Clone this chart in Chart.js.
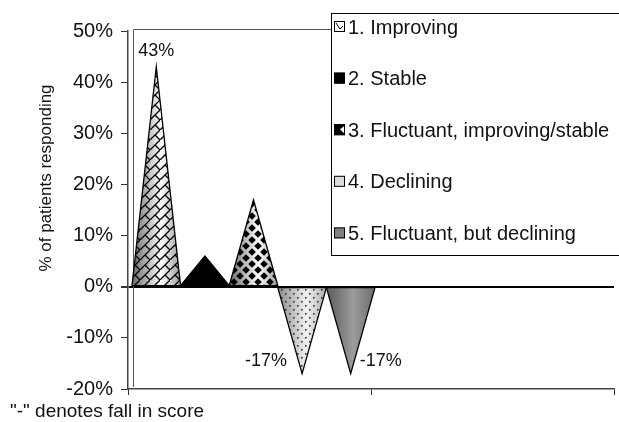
<!DOCTYPE html>
<html>
<head>
<meta charset="utf-8">
<script src="https://cdn.jsdelivr.net/npm/chart.js@4.4.0/dist/chart.umd.min.js"></script>
<style>
html, body { margin: 0; padding: 0; background: #fff; }
#wrap { width: 619px; height: 422px; }
</style>
</head>
<body>
<div id="wrap"><canvas id="chart"></canvas></div>
<script>
"use strict";

// data
const categories = ["", ""];
const series_names = [
    "1. Improving",
    "2. Stable",
    "3. Fluctuant, improving/stable",
    "4. Declining",
    "5. Fluctuant, but declining"
];
const series_values = [43, 6, 17, -17, -17];
const value_labels = ["43%", "", "", "-17%", "-17%"];
const label_sides = ["top", "", "", "left", "right"];
const y_min = -20;
const y_max = 50;
const y_step = 10;
const y_title = "% of patients responding";
const footnote = "\"-\" denotes fall in score";

const FONT = "'Liberation Sans Narrow', 'Liberation Sans', Arial, sans-serif";
Chart.defaults.font.family = FONT;
Chart.defaults.font.size = 20;
Chart.defaults.color = "#111";

// fill patterns
function makeTile(size, draw) {
    const c = document.createElement("canvas");
    c.width = size;
    c.height = size;
    draw(c.getContext("2d"), size);
    return c;
}

const brickTile = makeTile(10, function (g, s) {
    g.strokeStyle = "#000";
    g.lineWidth = 1.3;
    g.beginPath();
    g.moveTo(-1, s + 1); g.lineTo(s + 1, -1);
    g.moveTo(s / 2, s / 2); g.lineTo(s, s);
    g.stroke();
});

const diamondTile = makeTile(12, function (g, s) {
    g.fillStyle = "#000";
    const r = 3.8;
    [[s / 2, s / 2], [0, 0], [s, 0], [0, s], [s, s]].forEach(function (p) {
        g.beginPath();
        g.moveTo(p[0], p[1] - r);
        g.lineTo(p[0] + r, p[1]);
        g.lineTo(p[0], p[1] + r);
        g.lineTo(p[0] - r, p[1]);
        g.closePath();
        g.fill();
    });
});

const dotTile = makeTile(8, function (g, s) {
    g.fillStyle = "#333";
    g.fillRect(1, 1, 1.6, 1.6);
    g.fillRect(5, 5, 1.6, 1.6);
});

const looks = [
    { stops: [[0, "#666"], [0.6, "#fff"], [1, "#999"]], tile: brickTile, swatch: "#fff" },
    { stops: [[0, "#000"], [1, "#000"]], tile: null, swatch: "#000" },
    { stops: [[0, "#666"], [0.6, "#fff"], [1, "#999"]], tile: diamondTile, swatch: "#000" },
    { stops: [[0, "#8a8a8a"], [0.6, "#f2f2f2"], [1, "#aaa"]], tile: dotTile, swatch: "#dcdcdc" },
    { stops: [[0, "#5a5a5a"], [0.55, "#9c9c9c"], [1, "#6c6c6c"]], tile: null, swatch: "#808080" }
];

let datasets = [];
for (let i = 0; i < series_names.length; i++) {
    datasets.push({
        label: series_names[i],
        data: [series_values[i], null],
        backgroundColor: "rgba(0,0,0,0)",
        borderWidth: 0,
        categoryPercentage: 1,
        barPercentage: 1
    });
}

// cones are drawn over the (invisible) bars, using the bar elements' positions
const conePlugin = {
    id: "cones",
    beforeDatasetsDraw: function (chart) {
        const ctx = chart.ctx;
        const a = chart.chartArea;
        ctx.save();
        ctx.strokeStyle = "#555";
        ctx.lineWidth = 1;
        ctx.beginPath();
        ctx.moveTo(a.left + 5.5, a.bottom - 2);
        ctx.lineTo(a.left + 5.5, a.top - 1.5);
        ctx.lineTo(a.right, a.top - 1.5);
        ctx.stroke();
        ctx.restore();
    },
    afterDatasetsDraw: function (chart) {
        const ctx = chart.ctx;
        const dx = 4;
        chart.data.datasets.forEach(function (ds, i) {
            const meta = chart.getDatasetMeta(i);
            const el = meta.data[0];
            const half = el.width / 2;
            const l = el.x - half + dx;
            const r = el.x + half + dx;
            const look = looks[i];
            ctx.save();
            ctx.beginPath();
            ctx.moveTo(l, el.base);
            ctx.lineTo(r, el.base);
            ctx.lineTo(el.x + dx, el.y);
            ctx.closePath();
            const grad = ctx.createLinearGradient(l, 0, r, 0);
            look.stops.forEach(function (s) { grad.addColorStop(s[0], s[1]); });
            ctx.fillStyle = grad;
            ctx.fill();
            if (look.tile) {
                ctx.fillStyle = ctx.createPattern(look.tile, "repeat");
                ctx.fill();
            }
            ctx.strokeStyle = "#000";
            ctx.lineWidth = 1.3;
            ctx.stroke();

            const txt = value_labels[i];
            if (txt) {
                ctx.fillStyle = "#111";
                ctx.font = "18px " + FONT;
                ctx.textBaseline = "middle";
                const side = label_sides[i];
                if (side === "top") {
                    ctx.textAlign = "center";
                    ctx.fillText(txt, el.x + dx, el.y - 16);
                } else if (side === "left") {
                    ctx.textAlign = "right";
                    ctx.fillText(txt, el.x + dx - 15, el.y - 13);
                } else {
                    ctx.textAlign = "left";
                    ctx.fillText(txt, el.x + dx + 9, el.y - 13);
                }
            }
            ctx.restore();
        });
    },
    afterDraw: function (chart) {
        const ctx = chart.ctx;
        ctx.save();
        // legend box
        ctx.fillStyle = "#fff";
        ctx.fillRect(331, 13, 300, 242);
        ctx.strokeStyle = "#000";
        ctx.lineWidth = 1;
        ctx.strokeRect(331.5, 13.5, 300, 242);
        ctx.font = "20px " + FONT;
        ctx.textBaseline = "middle";
        ctx.textAlign = "left";
        chart.data.datasets.forEach(function (ds, i) {
            const y = 27 + i * 51.6;
            const look = looks[i];
            ctx.fillStyle = look.swatch;
            ctx.fillRect(334, y - 6, 11, 11);
            if (i === 0) {
                ctx.strokeStyle = "#000";
                ctx.beginPath();
                ctx.moveTo(336, y - 4); ctx.lineTo(340, y + 2); ctx.lineTo(343, y - 1);
                ctx.stroke();
            }
            if (i === 2) {
                ctx.fillStyle = "#fff";
                ctx.beginPath();
                ctx.moveTo(340, y - 1); ctx.lineTo(344, y - 4); ctx.lineTo(344, y + 3);
                ctx.closePath();
                ctx.fill();
            }
            ctx.strokeStyle = "#000";
            ctx.strokeRect(334.5, y - 5.5, 10, 10);
            ctx.fillStyle = "#111";
            ctx.fillText(ds.label, 348, y + 1);
        });
        // axis title and footnote
        ctx.save();
        ctx.font = "17px " + FONT;
        ctx.translate(46, 178);
        ctx.rotate(-Math.PI / 2);
        ctx.textAlign = "center";
        ctx.fillText(y_title, 0, 0);
        ctx.restore();
        ctx.font = "19px " + FONT;
        ctx.textAlign = "left";
        ctx.fillText(footnote, 10, 412);
        ctx.restore();
    }
};

const ctx = document.getElementById("chart");
const chart = new Chart(ctx, {
    type: "bar",
    data: {
        labels: categories,
        datasets: datasets
    },
    options: {
        responsive: true,
        maintainAspectRatio: false,
        animation: false,
        layout: { padding: { left: 0, right: 5, top: 31, bottom: 0 } },
        plugins: {
            legend: { display: false },
            tooltip: { enabled: false }
        },
        scales: {
            x: {
                afterFit: function (scale) { scale.height = 33; },
                grid: {
                    offset: true,
                    drawOnChartArea: false,
                    color: "#333",
                    tickLength: 6
                },
                border: { color: "#444", width: 1.5 },
                ticks: { display: false }
            },
            y: {
                min: y_min,
                max: y_max,
                afterFit: function (scale) { scale.width = 128; },
                grid: {
                    color: function (c) { return c.tick && c.tick.value === 0 ? "#000" : "rgba(0,0,0,0)"; },
                    lineWidth: function (c) { return c.tick && c.tick.value === 0 ? 2 : 1; },
                    tickColor: "#333",
                    tickLength: 7
                },
                border: { color: "#444", width: 1.5 },
                ticks: {
                    stepSize: y_step,
                    padding: 8,
                    color: "#111",
                    callback: function (v) { return v + "%"; }
                }
            }
        }
    },
    plugins: [conePlugin]
});
</script>
</body>
</html>
